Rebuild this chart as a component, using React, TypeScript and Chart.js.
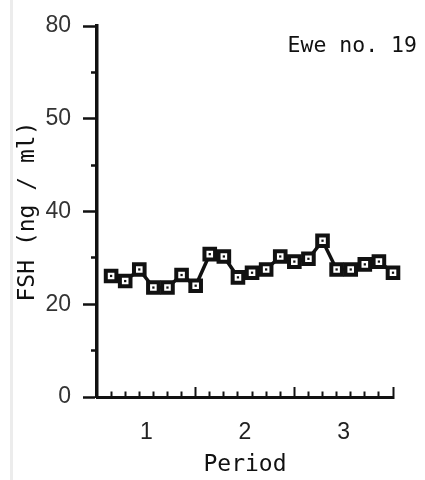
import { useEffect, useRef } from "react";
import { Chart, registerables } from "chart.js";

Chart.register(...registerables);

// ---- data ----
const samples = [1, 2, 3, 4, 5, 6, 7, 8, 9, 10, 11, 12, 13, 14, 15, 16, 17, 18, 19, 20, 21];
const fsh = [26.1, 25.0, 27.5, 23.6, 23.6, 26.3, 24.0, 30.8, 30.3, 25.8, 26.8, 27.5, 30.3, 29.2, 29.8, 33.7, 27.5, 27.5, 28.6, 29.2, 26.8];
const periodLabels = ["1", "2", "3"];
const periodCenters = [3.5, 10.5, 17.5];
const samplesPerPeriod = 7;
const yTickValues = [0, 20, 40, 60, 80];
const yTickLabels = ["0", "20", "40", "50", "80"];
const panelLabel = "Ewe no. 19";
const yTitle = "FSH (ng / ml)";
const xTitle = "Period";

const INK = "#111";
const MONO = '"DejaVu Sans Mono", monospace';
const SANS = '"Liberation Sans", Arial, sans-serif';

const isWhole = (v: number) => Math.abs(v - Math.round(v)) < 1e-6;

const panelLabelPlugin = {
  id: "panelLabel",
  afterDraw(chart: any) {
    const ctx = chart.ctx;
    const area = chart.chartArea;
    ctx.save();
    ctx.font = `21.5px ${MONO}`;
    ctx.fillStyle = "#111";
    ctx.textAlign = "right";
    ctx.textBaseline = "alphabetic";
    ctx.fillText(panelLabel, area.right + 24, area.top + 26);
    ctx.restore();
  },
};

export default function App() {
  const canvasRef = useRef<HTMLCanvasElement | null>(null);

  useEffect(() => {
    const canvas = canvasRef.current;
    if (!canvas) return;
    const points = samples.map((x, i) => ({ x, y: fsh[i] }));
    const chart = new Chart(canvas, {
      type: "line",
      data: {
        datasets: [
          {
            data: points,
            order: 2,
            clip: false,
            borderColor: INK,
            borderWidth: 3.5,
            tension: 0,
            pointStyle: "rect",
            pointRadius: 7.5,
            pointBorderWidth: 4,
            pointBackgroundColor: "#fff",
            pointBorderColor: INK,
          },
          {
            data: points,
            order: 1,
            clip: false,
            showLine: false,
            pointStyle: "rect",
            pointRadius: 1.6,
            pointBorderWidth: 0,
            pointBackgroundColor: INK,
            pointBorderColor: INK,
          },
        ],
      },
      options: {
        responsive: false,
        animation: false,
        layout: { padding: { left: 0, right: 30, top: 26, bottom: 0 } },
        plugins: {
          legend: { display: false },
          tooltip: { enabled: false },
        },
        scales: {
          x: {
            type: "linear",
            min: 0,
            max: 21,
            ticks: {
              stepSize: 0.5,
              autoSkip: false,
              maxRotation: 0,
              padding: 32,
              color: "#222",
              font: { family: SANS, size: 23 },
              callback: (v: any) => {
                const i = periodCenters.indexOf(Number(v));
                return i >= 0 ? periodLabels[i] : "";
              },
            },
            grid: {
              drawOnChartArea: false,
              drawTicks: true,
              tickLength: -10,
              tickWidth: 2,
              tickColor: (ctx: any) => {
                const v = ctx.tick ? Number(ctx.tick.value) : 0;
                return isWhole(v) && v > 0.5 ? INK : "rgba(0,0,0,0)";
              },
              tickBorderDash: (ctx: any) => {
                const v = ctx.tick ? Number(ctx.tick.value) : 0;
                return isWhole(v / samplesPerPeriod) ? [] : [7.5, 30];
              },
              tickBorderDashOffset: 0,
            },
            border: { display: true, color: INK, width: 3 },
            title: {
              display: true,
              text: xTitle,
              color: "#111",
              font: { family: MONO, size: 23 },
              padding: { top: 0, bottom: 1 },
            },
            afterFit: (s: any) => {
              s.height = 83;
            },
          },
          y: {
            type: "linear",
            min: 0,
            max: 80,
            ticks: {
              stepSize: 10,
              autoSkip: false,
              padding: 12,
              color: "#333",
              font: { family: SANS, size: 23 },
              callback: (v: any) => {
                const i = yTickValues.indexOf(Number(v));
                return i >= 0 ? yTickLabels[i] : "";
              },
            },
            grid: {
              drawOnChartArea: false,
              drawTicks: true,
              tickLength: 14,
              tickWidth: 2.5,
              tickColor: INK,
              tickBorderDash: (ctx: any) => {
                const v = ctx.tick ? ctx.tick.value : 0;
                return v % 20 === 0 ? [] : [6, 8];
              },
              tickBorderDashOffset: (ctx: any) => {
                const v = ctx.tick ? ctx.tick.value : 0;
                return v % 20 === 0 ? 0 : 6;
              },
            },
            border: { display: true, color: INK, width: 3.5 },
            title: {
              display: true,
              text: yTitle,
              color: "#111",
              font: { family: MONO, size: 23 },
              padding: { top: 14, bottom: 0 },
            },
            afterFit: (s: any) => {
              s.width = 97;
            },
          },
        },
      },
      plugins: [panelLabelPlugin],
    } as any);
    return () => chart.destroy();
  }, []);

  return (
    <div style={{ position: "absolute", left: 0, top: 0, width: 425, height: 480, background: "#fff" }}>
      <div style={{ position: "absolute", left: 10, top: 0, width: 3, height: 480, background: "#ececec" }} />
      <canvas ref={canvasRef} width={425} height={480} style={{ position: "absolute", left: 0, top: 0 }} />
    </div>
  );
}
